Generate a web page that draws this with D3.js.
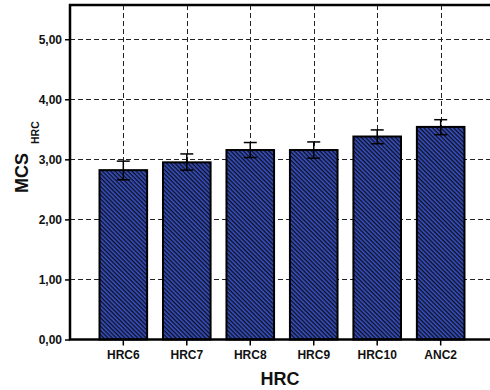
<!DOCTYPE html>
<html>
<head>
<meta charset="utf-8">
<script src="https://cdn.jsdelivr.net/npm/d3@7"></script>
<style>
  html, body { margin: 0; padding: 0; background: #fff; }
  svg { display: block; }
  text { font-family: "Liberation Sans", Arial, sans-serif; font-weight: bold; fill: #111; }
</style>
</head>
<body>
<svg id="chart" width="490" height="390"></svg>
<script>
// Mean MCS per condition with error-bar bounds
const categories = ["HRC6", "HRC7", "HRC8", "HRC9", "HRC10", "ANC2"];
const means      = [2.82, 2.95, 3.155, 3.155, 3.38, 3.54];
const errLow     = [2.66, 2.82, 3.03, 3.02, 3.26, 3.41];
const errHigh    = [2.97, 3.09, 3.28, 3.29, 3.49, 3.66];
const yTicks     = [0, 1, 2, 3, 4, 5];

const svg = d3.select("#chart");
const plotLeft = 70, plotRight = 494, plotTop = 5, plotBottom = 339.5;

const x = d3.scaleBand().domain(categories).range([plotLeft, plotRight])
  .paddingInner(0.25).paddingOuter(0.465);
const y = d3.scaleLinear().domain([0, 5.57]).range([plotBottom, plotTop]);

// diagonal hatch fill for bars (lines falling left to right)
const defs = svg.append("defs");
const pat = defs.append("pattern")
  .attr("id", "hatch").attr("patternUnits", "userSpaceOnUse")
  .attr("width", 3).attr("height", 3)
  .attr("patternTransform", "rotate(45)");
pat.append("rect").attr("width", 3).attr("height", 3).attr("fill", "#3a53c4");
pat.append("rect").attr("width", 3).attr("height", 1.4).attr("fill", "#0c0f24");

// grid
const grid = svg.append("g").attr("stroke", "#222").attr("stroke-width", 1)
  .attr("stroke-dasharray", "5,3");
grid.selectAll("line.h").data(yTicks.slice(1)).join("line")
  .attr("x1", plotLeft).attr("x2", plotRight)
  .attr("y1", d => Math.round(y(d)) + 0.5).attr("y2", d => Math.round(y(d)) + 0.5);
grid.selectAll("line.v").data(categories).join("line")
  .attr("x1", d => Math.round(x(d) + x.bandwidth() / 2) + 0.5)
  .attr("x2", d => Math.round(x(d) + x.bandwidth() / 2) + 0.5)
  .attr("y1", plotTop).attr("y2", plotBottom);

// bars
svg.append("g").selectAll("rect").data(categories).join("rect")
  .attr("x", d => x(d))
  .attr("y", (d, i) => y(means[i]))
  .attr("width", x.bandwidth())
  .attr("height", (d, i) => plotBottom - y(means[i]))
  .attr("fill", "url(#hatch)")
  .attr("stroke", "#000").attr("stroke-width", 2);

// error bars
const eb = svg.append("g").attr("stroke", "#000").attr("stroke-width", 1.5);
categories.forEach((c, i) => {
  const cx = x(c) + x.bandwidth() / 2;
  eb.append("line").attr("x1", cx).attr("x2", cx).attr("y1", y(errLow[i])).attr("y2", y(errHigh[i]));
  eb.append("line").attr("x1", cx - 6.5).attr("x2", cx + 6.5).attr("y1", y(errLow[i])).attr("y2", y(errLow[i]));
  eb.append("line").attr("x1", cx - 6.5).attr("x2", cx + 6.5).attr("y1", y(errHigh[i])).attr("y2", y(errHigh[i]));
});

// frame
svg.append("rect").attr("x", plotLeft).attr("y", plotTop)
  .attr("width", plotRight - plotLeft).attr("height", plotBottom - plotTop)
  .attr("fill", "none").attr("stroke", "#000").attr("stroke-width", 2.5);

// axes
const fmt = d => d.toFixed(2).replace(".", ",");
const yAxis = svg.append("g").attr("transform", `translate(${plotLeft},0)`)
  .call(d3.axisLeft(y).tickValues(yTicks).tickFormat(fmt).tickSize(5).tickPadding(3));
const xAxis = svg.append("g").attr("transform", `translate(0,${plotBottom})`)
  .call(d3.axisBottom(x).tickSize(6).tickPadding(5));
[yAxis, xAxis].forEach(g => {
  g.select(".domain").remove();
  g.selectAll(".tick line").attr("stroke", "#000").attr("stroke-width", 1.5);
  g.selectAll(".tick text").attr("font-family", "Liberation Sans, Arial, sans-serif")
    .attr("font-weight", "bold").attr("font-size", 12).attr("fill", "#111");
});

// axis titles
svg.append("text").attr("x", 280).attr("y", 385).attr("text-anchor", "middle")
  .attr("font-size", 18).text("HRC");
const yt = svg.append("text").attr("transform", "translate(28,193) rotate(-90)")
  .attr("font-size", 18);
yt.append("tspan").text("MCS");
yt.append("tspan").attr("dx", 9).attr("dy", 11).attr("font-size", 10.5).text("HRC");
</script>
</body>
</html>
